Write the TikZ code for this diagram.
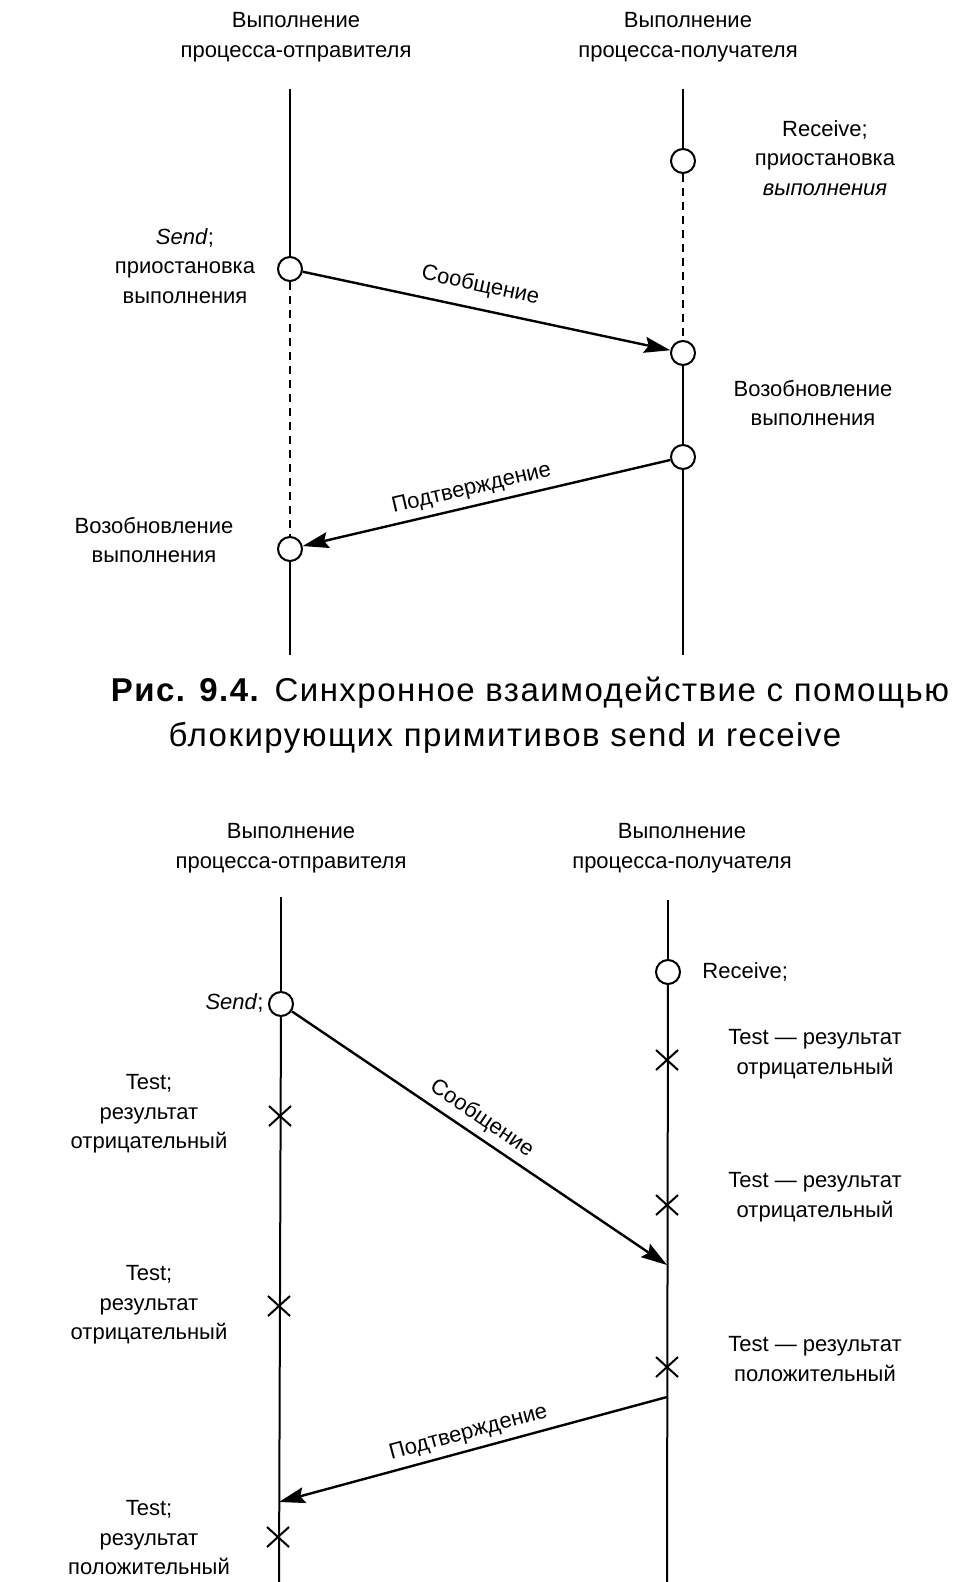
\documentclass[tikz,border=0pt]{standalone}
\usepackage{fontspec}
\setmainfont{Liberation Sans}
\newfontfamily\capfont[LetterSpace=4.5]{Liberation Sans}
\usetikzlibrary{arrows.meta,shapes.misc}
\begin{document}
\begin{tikzpicture}[x=0.5pt,y=-0.5pt,
  lbl/.style={font=\fontsize{11}{14.75}\selectfont, align=center, inner sep=0pt},
  captxt/.style={font=\capfont\fontsize{16.5}{19}\selectfont, inner sep=0pt},
  life/.style={line width=1pt},
  wait/.style={line width=1pt, dash pattern=on 4pt off 3pt},
  evt/.style={circle, draw, line width=1pt, fill=white, minimum size=12pt, inner sep=0pt},
  tst/.style={cross out, draw, line width=1pt, minimum width=10pt, minimum height=9pt, inner sep=0pt},
  msg/.style={line width=1.2pt, -{Stealth[length=13pt,width=8pt,inset=2pt]}},
  msgr/.style={line width=1.2pt, {Stealth[length=13pt,width=8pt,inset=2pt]}-},
  mlbl/.style={font=\fontsize{11}{13}\selectfont, sloped, above, inner sep=3pt},
]
\useasboundingbox (0,0) rectangle (959,1582);

% ---------- Figure 9.4 ----------
\node[lbl] (h1l) at (296,37) {Выполнение\\процесса-отправителя};
\node[lbl] (h1r) at (688,37) {Выполнение\\процесса-получателя};
\coordinate (l1top) at (290,89);
\coordinate (l1bot) at (290,655);
\coordinate (r1top) at (683,89);
\coordinate (r1bot) at (683,655);
\node[evt] (rcv1) at (683,161) {};
\node[evt] (snd1) at (290,269) {};
\node[evt] (rsm1r) at (683,353) {};
\node[evt] (ack1r) at (683,457) {};
\node[evt] (rsm1l) at (290,549) {};

\draw[life] (l1top) -- (snd1);
\draw[wait] (snd1) -- (rsm1l);
\draw[life] (rsm1l) -- (l1bot);
\draw[life] (r1top) -- (rcv1);
\draw[wait] (rcv1) -- (rsm1r);
\draw[life] (rsm1r) -- (ack1r);
\draw[life] (ack1r) -- (r1bot);

\draw[msg] (snd1) -- node[mlbl, pos=0.47, above=3pt] (m1) {Сообщение} (rsm1r);
\draw[msgr] (rsm1l) -- node[mlbl, pos=0.47] (a1) {Подтверждение} (ack1r);

\node[lbl] (rcvtxt1) at (825,158) {Receive;\\приостановка\\\textit{выполнения}};
\node[lbl] (sndtxt1) at (185,266) {\textit{Send};\\приостановка\\выполнения};
\node[lbl] (rsmtxt1r) at (813,403) {Возобновление\\выполнения};
\node[lbl] (rsmtxt1l) at (154,540) {Возобновление\\выполнения};

\node[captxt] (cap1) at (530,693) {\textbf{Рис. 9.4.} Синхронное взаимодействие с помощью};
\node[captxt] (cap2) at (505,738) {блокирующих примитивов send и receive};

% ---------- Second diagram ----------
\node[lbl] (h2l) at (291,848) {Выполнение\\процесса-отправителя};
\node[lbl] (h2r) at (682,848) {Выполнение\\процесса-получателя};
\coordinate (l2top) at (281,897);
\coordinate (l2bot) at (279,1582);
\coordinate (r2top) at (668,900);
\coordinate (r2bot) at (667,1582);
\node[evt] (rcv2) at (668,972) {};
\node[evt] (snd2) at (281,1004) {};

\draw[life] (l2top) -- (snd2);
\draw[life] (snd2) -- (l2bot);
\draw[life] (r2top) -- (rcv2);
\draw[life] (rcv2) -- (r2bot);

\node[tst] (tr1) at (667,1060) {};
\node[tst] (tr2) at (667,1205) {};
\node[tst] (tr3) at (667,1367) {};
\node[tst] (tl1) at (280,1116) {};
\node[tst] (tl2) at (279,1306) {};
\node[tst] (tl3) at (278,1537) {};

\coordinate (msgin) at (667,1265);
\coordinate (ackout) at (667,1397);
\coordinate (ackin) at (279,1502);

\draw[msg] (snd2) -- node[mlbl, pos=0.48] (m2) {Сообщение} (msgin);
\draw[msgr] (ackin) -- node[mlbl] (a2) {Подтверждение} (ackout);

\node[lbl, anchor=west] (rcvtxt2) at (702,972) {Receive;};
\node[lbl, anchor=east] (sndtxt2) at (264,1003) {\textit{Send};};
\node[lbl] (trt1) at (815,1054) {Test — результат\\отрицательный};
\node[lbl] (trt2) at (815,1197) {Test — результат\\отрицательный};
\node[lbl] (trt3) at (815,1359) {Test — результат\\положительный};
\node[lbl] (tlt1) at (149,1114) {Test;\\результат\\отрицательный};
\node[lbl] (tlt2) at (149,1305) {Test;\\результат\\отрицательный};
\node[lbl] (tlt3) at (149,1538) {Test;\\результат\\положительный};
\end{tikzpicture}
\end{document}
